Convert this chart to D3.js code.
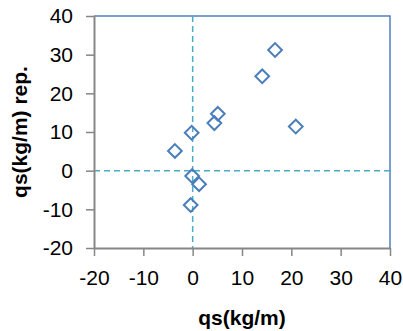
<!DOCTYPE html>
<html lang="en">
<head>
  <meta charset="utf-8"/>
  <script src="https://d3js.org/d3.v7.min.js"></script>
  <style>
    body { margin: 0; background: #fff; }
    text { font-family: "Liberation Sans", Arial, sans-serif; fill: #000; }
  </style>
</head>
<body>
<svg id="chart" width="403" height="331"></svg>
<script>
  // measured qs vs reproduced qs (kg/m)
  const qsMeasured = [-0.2, -3.6, 16.7, 14.1, 5.1, 4.4, 20.9, -0.1, 1.3, -0.4];
  const qsRep      = [ 9.8,  5.1, 31.2, 24.4, 14.7, 12.3, 11.4, -1.4, -3.5, -8.9];
  const xTicks = [-20, -10, 0, 10, 20, 30, 40];
  const yTicks = [-20, -10, 0, 10, 20, 30, 40];

  const svg = d3.select("#chart");
  const plotL = 94, plotR = 390, plotT = 16, plotB = 248;

  const x = d3.scaleLinear().domain([-20, 40]).range([plotL, plotR]);
  const y = d3.scaleLinear().domain([-20, 40]).range([plotB, plotT]);

  // top and right border of the plot area
  svg.append("path")
    .attr("d", "M" + plotL + "," + plotT + "H" + plotR + "V" + plotB)
    .attr("fill", "none")
    .attr("stroke", "#4f81bd")
    .attr("stroke-width", 1.5);

  // zero reference lines
  svg.append("line")
    .attr("x1", x(0)).attr("x2", x(0))
    .attr("y1", plotT).attr("y2", plotB)
    .attr("stroke", "#4bacc6").attr("stroke-width", 1.5)
    .attr("stroke-dasharray", "6,4");
  svg.append("line")
    .attr("x1", plotL).attr("x2", plotR)
    .attr("y1", y(0)).attr("y2", y(0))
    .attr("stroke", "#4bacc6").attr("stroke-width", 1.5)
    .attr("stroke-dasharray", "6,4");

  const fmt = d => String(d);  // plain hyphen minus like the original
  const xAxis = svg.append("g")
    .attr("transform", "translate(0," + plotB + ")")
    .call(d3.axisBottom(x).tickValues(xTicks).tickFormat(fmt)
      .tickSize(8).tickPadding(14).tickSizeOuter(0));
  const yAxis = svg.append("g")
    .attr("transform", "translate(" + plotL + ",0)")
    .call(d3.axisLeft(y).tickValues(yTicks).tickFormat(fmt)
      .tickSize(8).tickPadding(13).tickSizeOuter(0));

  [xAxis, yAxis].forEach(g => {
    g.select(".domain").attr("stroke", "#868686").attr("stroke-width", 2);
    g.selectAll(".tick line").attr("stroke", "#868686").attr("stroke-width", 1.5);
    g.selectAll(".tick text")
      .attr("font-family", "Liberation Sans, Arial, sans-serif")
      .attr("font-size", 21).attr("fill", "#000");
  });

  const pts = qsMeasured.map((v, i) => ({x: v, y: qsRep[i]}));
  svg.selectAll("path.pt").data(pts).enter()
    .append("path").attr("class", "pt")
    .attr("d", d3.symbol().type(d3.symbolDiamond2).size(120))
    .attr("transform", d => "translate(" + x(d.x) + "," + y(d.y) + ")")
    .attr("fill", "none")
    .attr("stroke", "#4a7ebb")
    .attr("stroke-width", 2);

  svg.append("text")
    .attr("x", (plotL + plotR) / 2).attr("y", 325)
    .attr("text-anchor", "middle")
    .attr("font-weight", "bold").attr("font-size", 21)
    .text("qs(kg/m)");

  svg.append("text")
    .attr("transform", "translate(27," + ((plotT + plotB) / 2) + ") rotate(-90)")
    .attr("text-anchor", "middle")
    .attr("font-weight", "bold").attr("font-size", 21)
    .text("qs(kg/m) rep.");
</script>
</body>
</html>
